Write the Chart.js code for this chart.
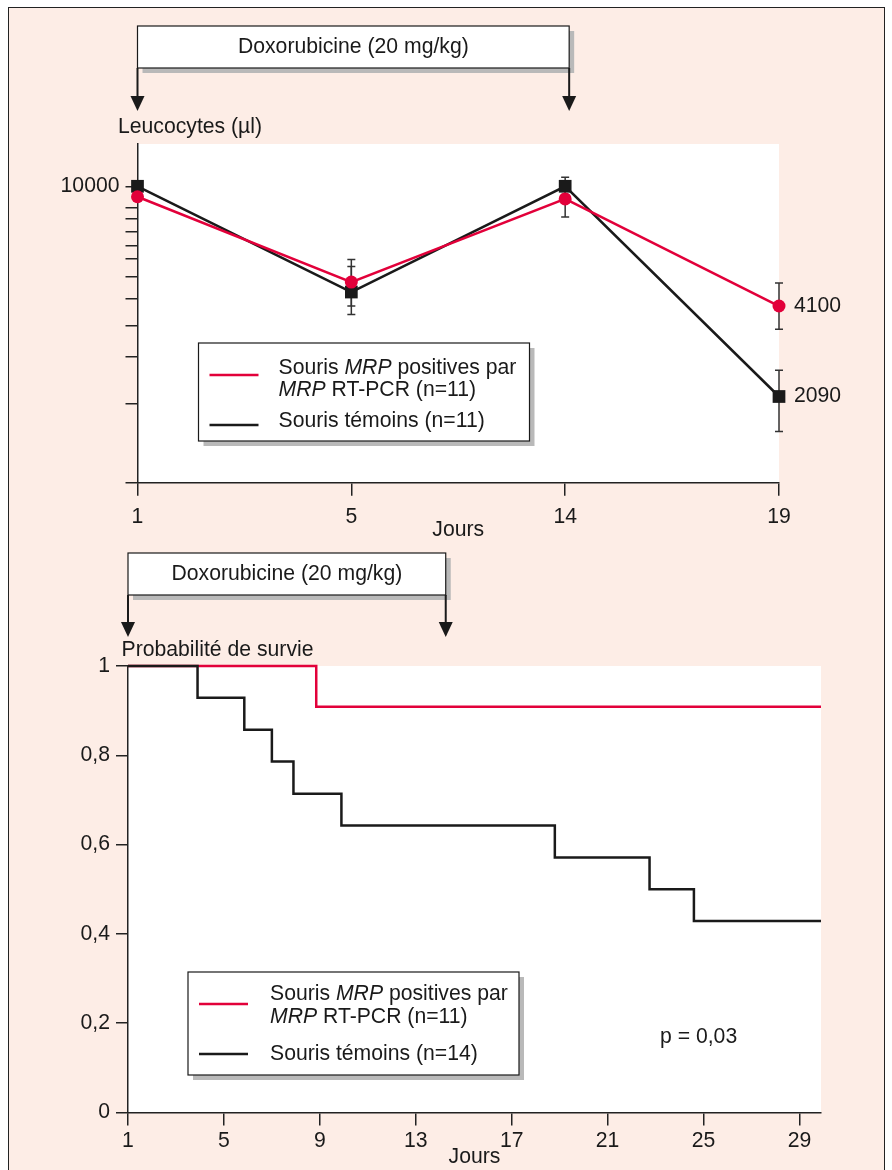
<!DOCTYPE html>
<html lang="fr">
<head>
<meta charset="utf-8">
<title>Leucocytes et survie</title>
<script src="https://cdn.jsdelivr.net/npm/chart.js@4"></script>
<style>
  html, body { margin: 0; padding: 0; background: #fff; }
  body { width: 892px; height: 1170px; position: relative; overflow: hidden; }
  #frame { position: absolute; left: 8px; top: 7px; width: 877px; height: 1200px; border: 1.5px solid #222; background: #fdede6; box-sizing: border-box; }
  #leuco { position: absolute; left: 0; top: 0; }
  #survie { position: absolute; left: 0; top: 545px; }
</style>
</head>
<body>
<div id="frame"></div>
<canvas id="leuco" width="892" height="545"></canvas>
<canvas id="survie" width="892" height="625"></canvas>
<script>
// --- données ---
const leucoDays = ['1', '5', '14', '19'];
const leucoMrp = [9250, 4900, 9100, 4100];
const leucoMrpLow = [null, 4100, 7950, 3450];
const leucoMrpHigh = [null, 5800, 10400, 4870];
const leucoTemoin = [10000, 4550, 10000, 2090];
const leucoTemoinLow = [null, 3850, 9400, 1610];
const leucoTemoinHigh = [null, 5500, 10700, 2540];
const leucoTicks = [1100, 1980, 2810, 3550, 4330, 5080, 5830, 6430, 7120, 7840, 8530, 10000];

const survieTemoinDays = [1, 3.9, 5.85, 7, 7.9, 9.9, 18.8, 22.75, 24.6, 29.9];
const survieTemoin = [1, 0.929, 0.857, 0.786, 0.714, 0.643, 0.571, 0.5, 0.429, 0.429];
const survieMrpDays = [1, 8.85, 29.9];
const survieMrp = [1, 0.909, 0.909];
const survieDayTicks = [1, 5, 9, 13, 17, 21, 25, 29];
const survieProbTicks = [0, 0.2, 0.4, 0.6, 0.8, 1];

const doxDays = [1, 14];
const doxText = 'Doxorubicine (20 mg/kg)';
const mrpLabel = ['Souris *MRP* positives par', '*MRP* RT-PCR (n=11)'];
const temoinLabel11 = ['Souris témoins (n=11)'];
const temoinLabel14 = ['Souris témoins (n=14)'];

const RED = '#e2003a';
const INK = '#1a1a1a';
const FONT = '"Liberation Sans", Arial, Helvetica, sans-serif';
const SIZE = 21.2;

Chart.defaults.font.family = FONT;
Chart.defaults.color = INK;

function dayPixel(scale, day) {
  if (scale.type === 'category') return scale.getPixelForValue(scale.getLabels().indexOf(String(day)));
  return scale.getPixelForValue(day);
}

// texte avec segments en italique entre *...*
function drawRich(ctx, str, x, y, size) {
  str.split('*').forEach((part, i) => {
    ctx.font = (i % 2 ? 'italic ' : '') + size + 'px ' + FONT;
    ctx.fillText(part, x, y);
    x += ctx.measureText(part).width;
  });
}

function shadowBox(ctx, x, y, w, h, off) {
  ctx.fillStyle = '#b9b9b9';
  ctx.fillRect(x + off, y + off, w, h);
  ctx.fillStyle = '#fff';
  ctx.fillRect(x, y, w, h);
  ctx.strokeStyle = INK;
  ctx.lineWidth = 1.2;
  ctx.strokeRect(x, y, w, h);
}

const panelPlugin = {
  id: 'panel',
  beforeDraw(chart) {
    const { ctx, chartArea: a } = chart;
    ctx.save();
    ctx.fillStyle = '#fff';
    ctx.fillRect(a.left, a.top, a.right - a.left, a.bottom - a.top);
    ctx.restore();
  },
  afterDraw(chart, args, o) {
    const { ctx, chartArea: a, scales: { x } } = chart;
    ctx.save();

    // bandeau doxorubicine + flèches
    const x0 = dayPixel(x, doxDays[0]);
    const x1 = dayPixel(x, doxDays[1]) + o.doxShift;
    const top = a.top + o.boxTop;
    const bottom = a.top + o.boxBottom;
    const tip = a.top + o.arrowTip;
    shadowBox(ctx, x0, top, x1 - x0, bottom - top, 5);
    ctx.fillStyle = INK;
    ctx.font = SIZE + 'px ' + FONT;
    ctx.textAlign = 'center';
    ctx.textBaseline = 'middle';
    ctx.fillText(doxText, (x0 + x1) / 2, (top + bottom) / 2);
    [x0, x1].forEach((xx) => {
      ctx.strokeStyle = INK;
      ctx.lineWidth = 2;
      ctx.beginPath();
      ctx.moveTo(xx, bottom);
      ctx.lineTo(xx, tip - 12);
      ctx.stroke();
      ctx.beginPath();
      ctx.moveTo(xx - 7, tip - 15);
      ctx.lineTo(xx + 7, tip - 15);
      ctx.lineTo(xx, tip);
      ctx.closePath();
      ctx.fill();
    });

    // titre de l'axe y
    ctx.textAlign = 'left';
    ctx.fillText(o.yCaption, a.left + o.captionX, a.top + o.captionY);

    // légende
    const L = o.legend;
    const lx = a.left + L.x;
    const ly = a.top + L.y;
    shadowBox(ctx, lx, ly, L.w, L.h, 5);
    L.items.forEach((it) => {
      const ds = chart.data.datasets[it.dataset];
      ctx.strokeStyle = ds.borderColor;
      ctx.lineWidth = 2.5;
      ctx.beginPath();
      ctx.moveTo(lx + 11, ly + it.line);
      ctx.lineTo(lx + 60, ly + it.line);
      ctx.stroke();
      ctx.fillStyle = INK;
      ds.label.forEach((row, r) => drawRich(ctx, row, lx + L.textX, ly + it.rows[r], SIZE));
    });

    // notes libres
    (o.notes || []).forEach((n) => {
      ctx.font = SIZE + 'px ' + FONT;
      ctx.fillStyle = INK;
      ctx.fillText(n.text, a.left + n.x, a.top + n.y);
    });
    ctx.restore();
  },
};

const errorBarPlugin = {
  id: 'errorBars',
  beforeDatasetsDraw(chart) {
    const { ctx, scales: { y } } = chart;
    ctx.save();
    ctx.strokeStyle = '#333';
    ctx.lineWidth = 1.5;
    chart.data.datasets.forEach((ds, i) => {
      if (!ds.errLow) return;
      chart.getDatasetMeta(i).data.forEach((pt, j) => {
        if (ds.errLow[j] == null) return;
        const yl = y.getPixelForValue(ds.errLow[j]);
        const yh = y.getPixelForValue(ds.errHigh[j]);
        ctx.beginPath();
        ctx.moveTo(pt.x, yl); ctx.lineTo(pt.x, yh);
        ctx.moveTo(pt.x - 4, yl); ctx.lineTo(pt.x + 4, yl);
        ctx.moveTo(pt.x - 4, yh); ctx.lineTo(pt.x + 4, yh);
        ctx.stroke();
      });
    });
    ctx.restore();
  },
  afterDatasetsDraw(chart) {
    // valeurs au dernier jour
    const { ctx } = chart;
    ctx.save();
    ctx.font = SIZE + 'px ' + FONT;
    ctx.fillStyle = INK;
    ctx.textBaseline = 'middle';
    chart.data.datasets.forEach((ds, i) => {
      const pts = chart.getDatasetMeta(i).data;
      const last = pts[pts.length - 1];
      ctx.fillText(String(ds.data[ds.data.length - 1]), last.x + 15, last.y);
    });
    ctx.restore();
  },
};

const axisGrid = { drawOnChartArea: false, drawTicks: true, tickLength: 12, color: '#222', lineWidth: 1.5 };
const axisBorder = { display: true, color: '#222', width: 1.5 };

new Chart(document.getElementById('leuco'), {
  type: 'line',
  data: {
    labels: leucoDays,
    datasets: [
      {
        label: mrpLabel,
        data: leucoMrp,
        errLow: leucoMrpLow,
        errHigh: leucoMrpHigh,
        borderColor: RED,
        backgroundColor: RED,
        borderWidth: 2.5,
        pointStyle: 'circle',
        pointRadius: 6.5,
        pointBorderWidth: 0,
        clip: false,
      },
      {
        label: temoinLabel11,
        data: leucoTemoin,
        errLow: leucoTemoinLow,
        errHigh: leucoTemoinHigh,
        borderColor: INK,
        backgroundColor: INK,
        borderWidth: 2.5,
        pointStyle: 'rect',
        pointRadius: 9,
        pointBorderWidth: 0,
        clip: false,
      },
    ],
  },
  options: {
    responsive: false,
    animation: false,
    layout: { padding: { left: 0, right: 113, top: 144, bottom: 2.3 } },
    plugins: {
      legend: { display: false },
      tooltip: { enabled: false },
      panel: {
        doxShift: 4,
        boxTop: -118, boxBottom: -76, arrowTip: -33,
        yCaption: 'Leucocytes (µl)', captionX: -19.5, captionY: -17,
        legend: {
          x: 61, y: 199, w: 331, h: 98, textX: 80,
          items: [
            { dataset: 0, rows: [25, 47], line: 32 },
            { dataset: 1, rows: [78], line: 82 },
          ],
        },
      },
    },
    scales: {
      x: {
        type: 'category',
        offset: false,
        afterFit: (s) => { s.height = 60; },
        grid: { ...axisGrid, offset: false, tickLength: 13 },
        border: axisBorder,
        ticks: { font: { size: SIZE }, padding: 9, color: INK },
        title: { display: true, text: 'Jours', font: { size: SIZE }, padding: 0, color: INK },
      },
      y: {
        type: 'logarithmic',
        min: 1100,
        max: 13700,
        afterFit: (s) => { s.width = 137.5; },
        afterBuildTicks: (s) => { s.ticks = leucoTicks.map((v) => ({ value: v })); },
        grid: axisGrid,
        border: axisBorder,
        ticks: { font: { size: SIZE }, padding: 6, color: INK, callback: (v) => (v === 10000 ? '10000' : '') },
      },
    },
  },
  plugins: [panelPlugin, errorBarPlugin],
});

new Chart(document.getElementById('survie'), {
  type: 'line',
  data: {
    datasets: [
      {
        label: temoinLabel14,
        data: survieTemoinDays.map((d, i) => ({ x: d, y: survieTemoin[i] })),
        borderColor: INK,
        borderWidth: 2.5,
        stepped: true,
        pointRadius: 0,
        clip: false,
      },
      {
        label: mrpLabel,
        data: survieMrpDays.map((d, i) => ({ x: d, y: survieMrp[i] })),
        borderColor: RED,
        borderWidth: 2.5,
        stepped: true,
        pointRadius: 0,
        clip: false,
      },
    ],
  },
  options: {
    responsive: false,
    animation: false,
    layout: { padding: { left: 0, right: 71, top: 121, bottom: 0 } },
    plugins: {
      legend: { display: false },
      tooltip: { enabled: false },
      panel: {
        doxShift: 6,
        boxTop: -113, boxBottom: -71, arrowTip: -29,
        yCaption: 'Probabilité de survie', captionX: -6.5, captionY: -16,
        legend: {
          x: 60, y: 306, w: 331, h: 103, textX: 82,
          items: [
            { dataset: 1, rows: [22, 45], line: 32 },
            { dataset: 0, rows: [82], line: 82 },
          ],
        },
        notes: [{ text: 'p = 0,03', x: 532, y: 371 }],
      },
    },
    scales: {
      x: {
        type: 'linear',
        min: 1,
        max: 29.9,
        afterFit: (s) => { s.height = 57.5; },
        afterBuildTicks: (s) => { s.ticks = survieDayTicks.map((v) => ({ value: v })); },
        grid: { ...axisGrid, tickLength: 13 },
        border: axisBorder,
        ticks: { font: { size: SIZE }, padding: 3, color: INK },
        title: { display: true, text: 'Jours', font: { size: SIZE }, padding: 0, color: INK },
      },
      y: {
        type: 'linear',
        min: 0,
        max: 1,
        afterFit: (s) => { s.width = 128; },
        afterBuildTicks: (s) => { s.ticks = survieProbTicks.map((v) => ({ value: v })); },
        grid: axisGrid,
        border: axisBorder,
        ticks: {
          font: { size: SIZE },
          padding: 6,
          color: INK,
          callback: (v) => (v === 0 || v === 1 ? String(v) : v.toFixed(1).replace('.', ',')),
        },
      },
    },
  },
  plugins: [panelPlugin],
});
</script>
</body>
</html>
